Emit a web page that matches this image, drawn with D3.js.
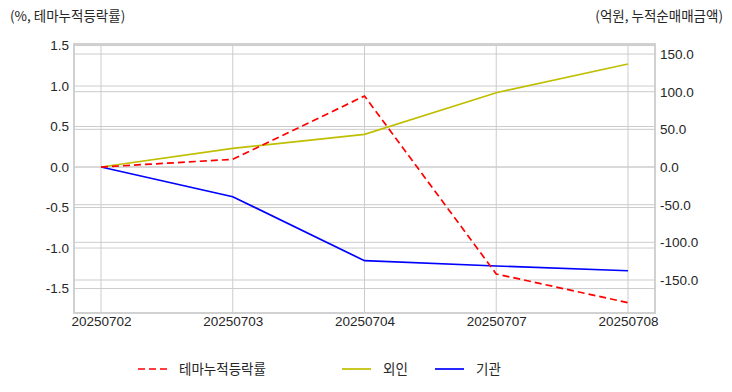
<!DOCTYPE html>
<html>
<head>
<meta charset="utf-8">
<script src="https://cdn.jsdelivr.net/npm/d3@7"></script>
<style>
    body { margin: 0; background: #fff; }
    svg text { font-family: "Liberation Sans", Arial, sans-serif; }
    .kr { font-family: "Noto Sans CJK KR", "Noto Sans", sans-serif; }
</style>
</head>
<body>
<svg id="chart" width="732" height="392"></svg>
<script>
// data
const dates = ["20250702", "20250703", "20250704", "20250707", "20250708"];
const themeRate = [0, 0.095, 0.877, -1.32, -1.675];      // %, left axis
const foreign = [0, 24.8, 43.4, 98.6, 136.7];            // 억원, right axis
const institution = [0, -39.4, -124.4, -131.4, -137.7];  // 억원, right axis
const leftTicks = [1.5, 1.0, 0.5, 0.0, -0.5, -1.0, -1.5];
const rightTicks = [150, 100, 50, 0, -50, -100, -150];

const svg = d3.select("#chart");
const plot = { left: 74, right: 655, top: 44, bottom: 313 };
const gridColor = "#cccccc";
const textColor = "#262626";
const dash = "7,4";

// scales
const x = d3.scalePoint().domain(dates).range([plot.left, plot.right]).padding(0.205);
const yLeft = d3.scaleLinear().domain([-1.802, 1.519]).range([plot.bottom, plot.top]);
const yRight = d3.scaleLinear().domain([-193.8, 163.3]).range([plot.bottom, plot.top]);

// grid lines (both y axes + x)
const grid = svg.append("g");
grid.selectAll(".gl").data(leftTicks).enter().append("line")
    .attr("x1", plot.left).attr("x2", plot.right)
    .attr("y1", (d) => yLeft(d)).attr("y2", (d) => yLeft(d))
    .style("stroke", gridColor).style("stroke-width", 1);
grid.selectAll(".gr").data(rightTicks).enter().append("line")
    .attr("x1", plot.left).attr("x2", plot.right)
    .attr("y1", (d) => yRight(d)).attr("y2", (d) => yRight(d))
    .style("stroke", gridColor).style("stroke-width", 1);
grid.selectAll(".gx").data(dates).enter().append("line")
    .attr("x1", (d) => x(d)).attr("x2", (d) => x(d))
    .attr("y1", plot.top).attr("y2", plot.bottom)
    .style("stroke", gridColor).style("stroke-width", 1);

// axes (labels only, no tick marks)
const fmt = (d) => d3.format(".1f")(d).replace("\u2212", "-");
const axLeft = svg.append("g")
    .attr("transform", "translate(" + plot.left + ",0)")
    .call(d3.axisLeft(yLeft).tickValues(leftTicks).tickFormat(fmt).tickSize(0).tickPadding(5));
const axRight = svg.append("g")
    .attr("transform", "translate(" + plot.right + ",0)")
    .call(d3.axisRight(yRight).tickValues(rightTicks).tickFormat(fmt).tickSize(0).tickPadding(5));
const axBottom = svg.append("g")
    .attr("transform", "translate(0," + plot.bottom + ")")
    .call(d3.axisBottom(x).tickSize(0).tickPadding(3.5));

[axLeft, axRight, axBottom].forEach((g) => {
    g.select(".domain").remove();
    g.selectAll("text")
        .style("font-family", "Liberation Sans, Arial, sans-serif")
        .style("font-size", "13.5px")
        .style("fill", textColor);
});

// frame
svg.append("rect")
    .attr("x", plot.left).attr("y", plot.top)
    .attr("width", plot.right - plot.left).attr("height", plot.bottom - plot.top)
    .style("fill", "none").style("stroke", gridColor).style("stroke-width", 1.8);

// lines
const lineLeft = d3.line().x((d, i) => x(dates[i])).y((d) => yLeft(d));
const lineRight = d3.line().x((d, i) => x(dates[i])).y((d) => yRight(d));

svg.append("path").datum(foreign).attr("d", lineRight)
    .style("fill", "none").style("stroke", "#bfbf00").style("stroke-width", 1.7);
svg.append("path").datum(institution).attr("d", lineRight)
    .style("fill", "none").style("stroke", "#0000ff").style("stroke-width", 1.7);
svg.append("path").datum(themeRate).attr("d", lineLeft)
    .style("fill", "none").style("stroke", "#ff0000").style("stroke-width", 1.7)
    .style("stroke-dasharray", dash);

// axis titles
svg.append("text").attr("class", "kr")
    .attr("x", 10).attr("y", 21)
    .style("font-size", "13.5px").style("fill", textColor)
    .text("(%, 테마누적등락률)");
svg.append("text").attr("class", "kr")
    .attr("x", 723).attr("y", 21).attr("text-anchor", "end")
    .style("font-size", "13.5px").style("fill", textColor)
    .text("(억원, 누적순매매금액)");

// legend
const legendItems = [
    { name: "테마누적등락률", color: "#ff0000", dash: dash, x: 138 },
    { name: "외인", color: "#bfbf00", dash: null, x: 342 },
    { name: "기관", color: "#0000ff", dash: null, x: 435 },
];
const legend = svg.append("g").attr("transform", "translate(0,369)");
legendItems.forEach((item) => {
    legend.append("line")
        .attr("x1", item.x).attr("x2", item.x + 29)
        .attr("y1", 0).attr("y2", 0)
        .style("stroke", item.color).style("stroke-width", 1.7)
        .style("stroke-dasharray", item.dash);
    legend.append("text").attr("class", "kr")
        .attr("x", item.x + 41).attr("y", 0).attr("dy", "0.35em")
        .style("font-size", "13.5px").style("fill", textColor)
        .text(item.name);
});
</script>
</body>
</html>
